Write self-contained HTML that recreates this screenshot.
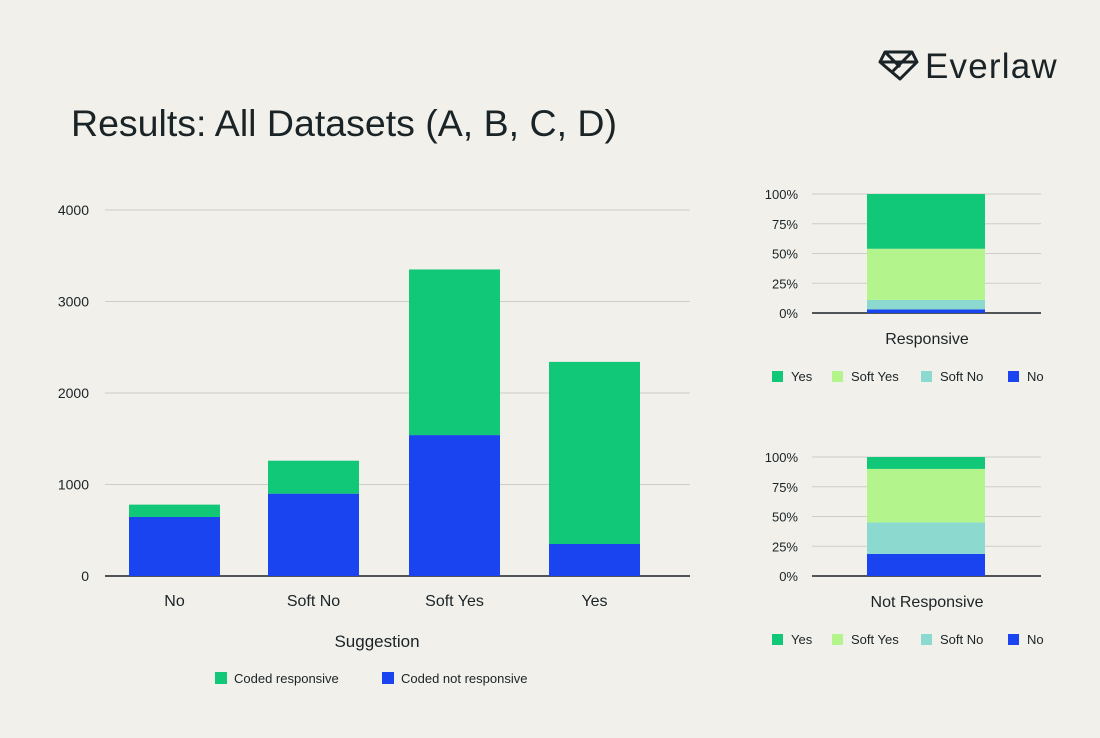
<!DOCTYPE html>
<html><head><meta charset="utf-8"><style>
body{margin:0;background:#f1f0eb;width:1100px;height:733px;overflow:hidden;font-family:"Liberation Sans",sans-serif;color:#1a2326}
svg text{font-family:"Liberation Sans",sans-serif;fill:#1a2326}
</style></head><body>
<svg width="1100" height="733" viewBox="0 0 1100 733">
<g>
<path d="M897 52 L912 52 L917 62 L900 79 L880 62 L885 52 Z M885 52 L900 67 M912 52 L893 71 M880 62 L917 62" fill="none" stroke="#1a2326" stroke-width="3" stroke-linejoin="round"/>
<text x="925" y="78" font-size="35" font-weight="500" letter-spacing="1.2">Everlaw</text>
</g>
<text x="71" y="136" font-size="37.5">Results: All Datasets (A, B, C, D)</text>
<g id="main"></g>
<g id="s1"></g>
<g id="s2"></g>
</svg>
<script>
const categories=["No","Soft No","Soft Yes","Yes"];
const notResponsive=[645,900,1540,350];
const responsive=[135,360,1810,1990];
const mainTicks=[0,1000,2000,3000,4000];
const smallSeries=["No","Soft No","Soft Yes","Yes"];
const responsiveShares=[3,8,43,46];
const notResponsiveShares=[18.5,26.5,45,10];
const pctTicks=[0,25,50,75,100];
const NS="http://www.w3.org/2000/svg";
const G="#10c878",B="#1a44f0",LG="#b4f48c",T="#8cd9d0";
function mk(p,t,a,txt){const e=document.createElementNS(NS,t);for(const k in a)e.setAttribute(k,a[k]);if(txt!==undefined)e.textContent=txt;p.appendChild(e);return e;}
const m=document.getElementById('main');
const y=v=>576-v*366/4000;
const step=140,bw=91;
mainTicks.forEach(t=>{
 const l=mk(m,'line',{x1:105,x2:690,y1:y(t),y2:y(t),stroke:t?'#cfcdc7':'#1a2326','stroke-width':t?1:1.5});
 
 
 const tx=mk(m,'text',{x:89,y:y(t)+5,'font-size':14,'text-anchor':'end'},t);
 
 
});
categories.forEach((c,i)=>{
 const bx=129+i*step-(i==1?1:0);
 const b1=mk(m,'rect',{x:bx,y:y(notResponsive[i]),width:bw,height:y(0)-y(notResponsive[i]),fill:B});
 
 
 const tot=notResponsive[i]+responsive[i];
 const b2=mk(m,'rect',{x:bx,y:y(tot),width:bw,height:y(notResponsive[i])-y(tot),fill:G});
 
 
 const tl=mk(m,'text',{x:bx+bw/2,y:606,'font-size':16,'text-anchor':'middle'},c);
 
 
});
const xt=mk(m,'text',{x:377,y:647,'font-size':17,'text-anchor':'middle'},'Suggestion');


[[215,G,'Coded responsive'],[382,B,'Coded not responsive']].forEach(l=>{
 const g=mk(m,'g',{});
 
 
 mk(g,'rect',{x:l[0],y:672,width:12,height:12,fill:l[1]});
 mk(g,'text',{x:l[0]+19,y:683,'font-size':13},l[2]);
});
function small(id,base,shares,label){
 const g=document.getElementById(id);
 const sy=v=>base-v*119/100;
 pctTicks.forEach(t=>{
  const l=mk(g,'line',{x1:812,x2:1041,y1:sy(t),y2:sy(t),stroke:t?'#cfcdc7':'#1a2326','stroke-width':t?1:1.5});
  
  
  const tx=mk(g,'text',{x:798,y:sy(t)+5,'font-size':13,'text-anchor':'end'},t+'%');
  
  
 });
 const cols=[B,T,LG,G];let acc=0;
 shares.forEach((s,i)=>{
  const r=mk(g,'rect',{x:867,y:sy(acc+s),width:118,height:sy(acc)-sy(acc+s),fill:cols[i]});
  
  
  acc+=s;
 });
 const xl=mk(g,'text',{x:927,y:base+31,'font-size':16,'text-anchor':'middle'},label);
 
 
 [[772,G,'Yes'],[832,LG,'Soft Yes'],[921,T,'Soft No'],[1008,B,'No']].forEach(l=>{
  const e=mk(g,'g',{});
  
  
  mk(e,'rect',{x:l[0],y:base+58,width:11,height:11,fill:l[1]});
  mk(e,'text',{x:l[0]+19,y:base+68,'font-size':13},l[2]);
 });
}
small('s1',313,responsiveShares,'Responsive');
small('s2',576,notResponsiveShares,'Not Responsive');
</script>
</body></html>
